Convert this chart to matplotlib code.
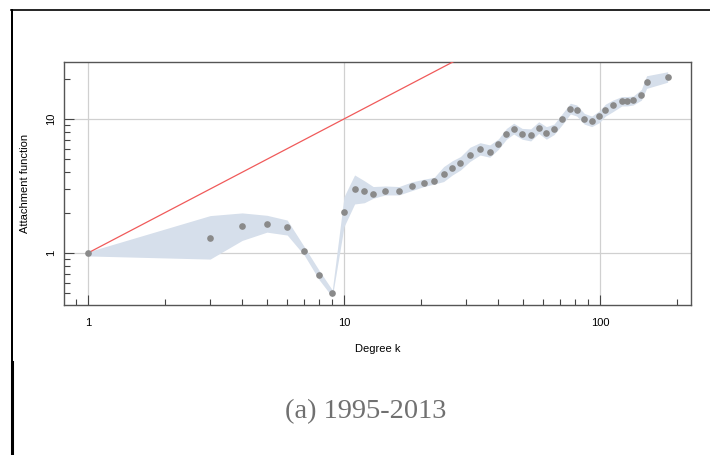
import numpy as np
import matplotlib.pyplot as plt
from matplotlib.lines import Line2D
from matplotlib.ticker import FixedLocator, NullFormatter

# estimated attachment function
degree = [1, 3, 4, 5, 6, 7, 8, 9, 10, 11, 12, 13, 14.5, 16.4, 18.4, 20.5, 22.5,
          24.5, 26.5, 28.5, 31.0, 34.0, 37.1, 40.1, 43.1, 46.0, 49.6, 53.6, 57.6,
          61.7, 66.1, 71.3, 76.6, 81.1, 86.8, 92.8, 99.4, 105, 112, 121.6, 127.5,
          134.6, 145, 152, 183.7]
value = [1.0, 1.30, 1.58, 1.65, 1.56, 1.03, 0.68, 0.50, 2.01, 2.98, 2.89, 2.75,
         2.92, 2.89, 3.16, 3.35, 3.46, 3.89, 4.33, 4.67, 5.42, 6.0, 5.70, 6.5,
         7.77, 8.47, 7.77, 7.64, 8.57, 7.9, 8.38, 10.0, 11.9, 11.7, 10.0, 9.6,
         10.5, 11.7, 12.6, 13.6, 13.6, 13.8, 15.1, 18.8, 20.5]
upper = [1.02, 1.90, 1.99, 1.91, 1.76, 1.11, 0.74, 0.53, 2.63, 3.82, 3.46, 3.13,
         3.16, 3.13, 3.39, 3.55, 3.67, 4.41, 4.88, 5.24, 6.14, 6.65, 6.40, 7.1,
         8.5, 9.29, 8.5, 8.43, 9.53, 8.76, 9.15, 11.0, 13.1, 12.7, 11.0, 10.5,
         11.5, 12.9, 13.8, 14.7, 14.7, 14.8, 16.6, 21.0, 22.5]
lower = [0.95, 0.90, 1.24, 1.43, 1.36, 0.96, 0.63, 0.47, 1.57, 2.32, 2.37, 2.56,
         2.71, 2.71, 2.92, 3.13, 3.27, 3.41, 3.82, 4.16, 4.81, 5.38, 5.18, 5.94,
         7.06, 7.72, 7.06, 6.85, 7.8, 7.06, 7.64, 9.1, 10.9, 10.5, 9.15, 8.76,
         9.4, 10.5, 11.3, 12.5, 12.5, 12.7, 13.8, 16.9, 18.8]

plt.rcParams['font.family'] = ['Liberation Sans', 'DejaVu Sans']

fig = plt.figure(figsize=(7.1, 4.55), dpi=100)
ax = fig.add_axes([64 / 710, 150 / 455, 627 / 710, 243 / 455])

ax.fill_between(degree, lower, upper, color='#d6dfeb', lw=0, zorder=2)
ref = np.array([1, 300])
ax.plot(ref, ref, color='#f05a5a', lw=0.9, zorder=3)
ax.plot(degree, value, 'o', color='#8a8a8a', ms=4.8, mec='none', zorder=4)

ax.set_xscale('log')
ax.set_yscale('log')
ax.set_xlim(0.806, 226.6)
ax.set_ylim(0.409, 26.6)

ax.xaxis.set_major_locator(FixedLocator([1, 10, 100]))
ax.xaxis.set_minor_locator(FixedLocator([0.9] + list(range(2, 10)) +
                                        list(range(20, 100, 10)) + [200]))
ax.yaxis.set_major_locator(FixedLocator([1, 10]))
ax.yaxis.set_minor_locator(FixedLocator([0.5, 0.6, 0.7, 0.8, 0.9] +
                                        list(range(2, 10)) + [20]))
ax.xaxis.set_minor_formatter(NullFormatter())
ax.yaxis.set_minor_formatter(NullFormatter())
ax.set_xticklabels(['1', '10', '100'])
ax.set_yticklabels(['1', '10'], rotation=90, va='center')

ax.tick_params(which='both', direction='in', color='#444444', width=0.8,
               labelsize=8)
ax.tick_params(axis='x', pad=9)
ax.tick_params(axis='y', pad=5.5)
ax.tick_params(which='major', length=7)
ax.tick_params(which='minor', length=4)
ax.grid(True, which='major', color='#d0d0d0', lw=0.9, zorder=0)
for s in ax.spines.values():
    s.set_color('#555555')
    s.set_linewidth(1.0)

ax.set_xlabel('Degree k', fontsize=8, labelpad=12)
ax.set_ylabel('Attachment function', fontsize=8, labelpad=12)

fig.text(366 / 710, 1 - 412 / 455, '(a) 1995-2013', ha='center', va='center',
         fontsize=20.5, color='#707070', family='Liberation Serif')

# page border lines
fig.add_artist(Line2D([11 / 710, 1], [1 - 9.5 / 455] * 2, color='black', lw=1.2))
fig.add_artist(Line2D([11.5 / 710] * 2, [1 - 9.5 / 455, 1 - 362 / 455],
                      color='black', lw=1.2, antialiased=False))
fig.add_artist(Line2D([12.3 / 710] * 2, [1 - 362 / 455, 0], color='black', lw=2.2))

fig.savefig('out.png', dpi=100)
